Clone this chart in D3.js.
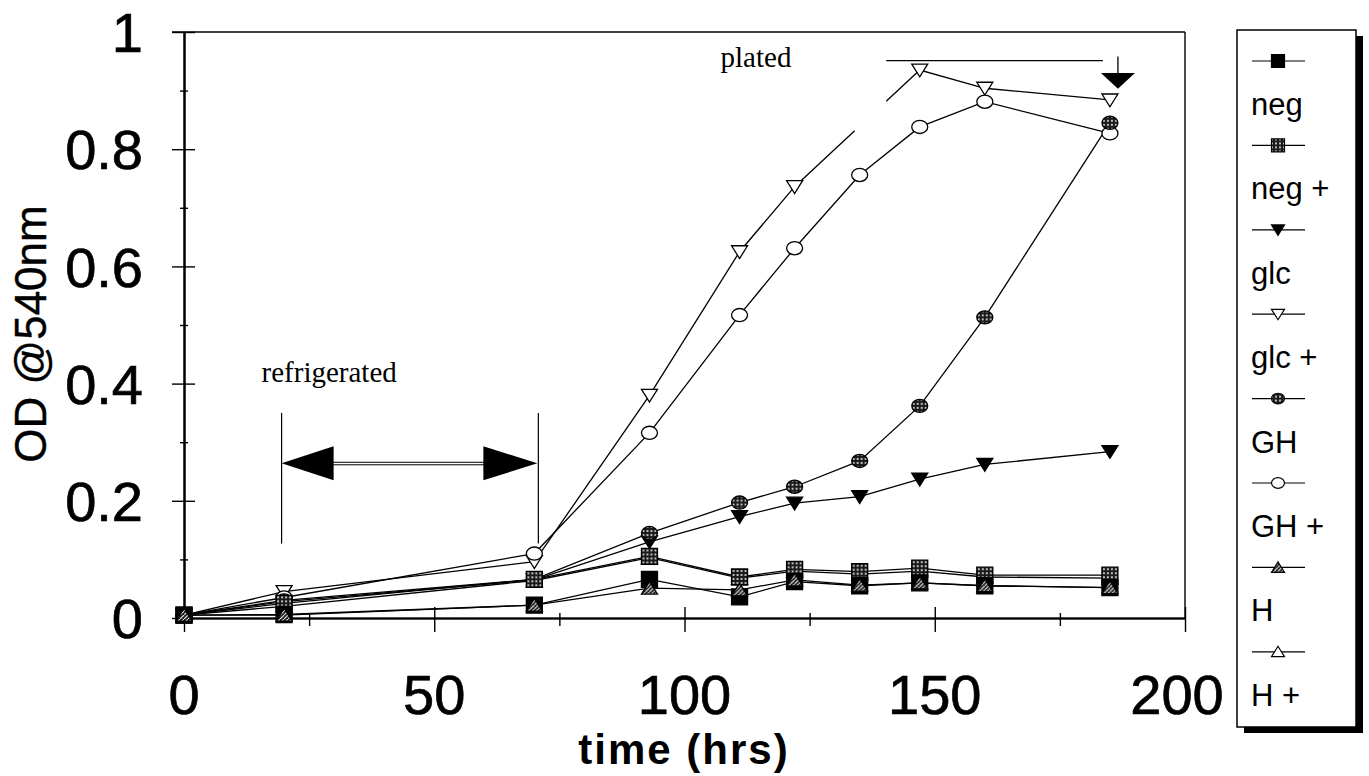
<!DOCTYPE html>
<html>
<head>
<meta charset="utf-8">
<script src="https://cdn.jsdelivr.net/npm/d3@7/dist/d3.min.js"></script>
<style>
  html, body { margin: 0; padding: 0; background: #fff; }
  svg { display: block; }
  text { fill: #000; }
</style>
</head>
<body>
<svg id="chart" width="1369" height="776"></svg>
<script>
// ---------------- data ----------------
const hours   = [0, 20, 70, 93, 111, 122, 135, 147, 160, 185];
const neg     = [0.005, 0.006, 0.022, 0.066, 0.036, 0.062, 0.055, 0.060, 0.055, 0.052];
const negPlus = [0.005, 0.025, 0.066, 0.105, 0.070, 0.083, 0.079, 0.085, 0.073, 0.073];
const glc     = [0.005, 0.028, 0.065, 0.130, 0.173, 0.196, 0.207, 0.237, 0.262, 0.284];
const glcPlus = [0.005, 0.045, 0.096, 0.380, 0.625, 0.736, null, 0.935, 0.904, 0.884];
const GH      = [0.005, 0.030, 0.066, 0.145, 0.197, 0.224, 0.268, 0.362, 0.513, 0.845];
const GHPlus  = [0.005, 0.035, 0.110, 0.316, 0.517, 0.631, 0.756, 0.838, 0.881, 0.827];
const H       = [0.005, 0.005, 0.022, 0.051, 0.048, 0.065, 0.056, 0.060, 0.055, 0.052];
const HPlus   = [0.005, 0.020, 0.064, 0.103, 0.068, 0.080, 0.075, 0.080, 0.070, 0.068];

const seriesNames = ["neg", "neg +", "glc", "glc +", "GH", "GH +", "H", "H +"];
const xMajorTicks = [0, 50, 100, 150, 200];
const xMinorTicks = [25, 75, 125, 175];
const yMajorTicks = [0, 0.2, 0.4, 0.6, 0.8, 1];
const yMinorTicks = [0.1, 0.3, 0.5, 0.7, 0.9];
const yTickLabels = ["0", "0.2", "0.4", "0.6", "0.8", "1"];
const xTickLabels = ["0", "50", "100", "150", "200"];

// annotations (in data units)
const refrigStart = 19.5, refrigEnd = 70.8;
const platedFrom = 140.3, platedTo = 183.6, platedArrowAt = 186.6;
const glcPlusGap = [134, 140.3]; // break in the glc + line

// ---------------- setup ----------------
const svg = d3.select("#chart");
const x = d3.scaleLinear().domain([0, 200]).range([184, 1185]);
const y = d3.scaleLinear().domain([0, 1]).range([618, 32]);
const SANS = "'Liberation Sans', Arial, sans-serif";
const SERIF = "'Liberation Serif', 'Times New Roman', serif";

const defs = svg.append("defs");
const dots = defs.append("pattern").attr("id", "dots").attr("patternUnits", "userSpaceOnUse")
  .attr("width", 4).attr("height", 4);
dots.append("rect").attr("width", 4).attr("height", 4).attr("fill", "#1a1a1a");
dots.append("circle").attr("cx", 2).attr("cy", 2).attr("r", 0.95).attr("fill", "#fff");
const hatch = defs.append("pattern").attr("id", "hatch").attr("patternUnits", "userSpaceOnUse")
  .attr("width", 4).attr("height", 4);
hatch.append("rect").attr("width", 4).attr("height", 4).attr("fill", "#1a1a1a");
hatch.append("path").attr("d", "M0,4 L4,0").attr("stroke", "#fff").attr("stroke-width", 1.1);

// ---------------- frame & axes ----------------
const frame = svg.append("g").attr("stroke", "#000").attr("fill", "none");
frame.append("line").attr("x1", x(0) - 12).attr("x2", x(200)).attr("y1", y(1)).attr("y2", y(1)).attr("stroke-width", 1.6);
frame.append("line").attr("x1", x(200)).attr("x2", x(200)).attr("y1", y(1)).attr("y2", y(0)).attr("stroke-width", 1.4);

function styleAxis(g) {
  g.select(".domain").attr("stroke", "#000").attr("stroke-width", 1.6);
  g.selectAll(".tick line").attr("stroke", "#000").attr("stroke-width", 1.4);
  g.selectAll(".tick text").remove();
}
svg.append("g").attr("transform", `translate(0,${y(0)})`)
  .call(d3.axisBottom(x).tickValues(xMajorTicks).tickSize(14).tickSizeOuter(0)).call(styleAxis);
svg.append("g").attr("transform", `translate(0,${y(0)})`)
  .call(d3.axisTop(x).tickValues(xMajorTicks).tickSize(11).tickSizeOuter(0)).call(styleAxis);
svg.append("g").attr("transform", `translate(0,${y(0)})`)
  .call(d3.axisBottom(x).tickValues(xMinorTicks).tickSize(8).tickSizeOuter(0)).call(styleAxis);
svg.append("g").attr("transform", `translate(0,${y(0)})`)
  .call(d3.axisTop(x).tickValues(xMinorTicks).tickSize(5).tickSizeOuter(0)).call(styleAxis);

svg.append("g").attr("transform", `translate(${x(0)},0)`)
  .call(d3.axisLeft(y).tickValues(yMajorTicks).tickSize(12).tickSizeOuter(0)).call(styleAxis);
svg.append("g").attr("transform", `translate(${x(0)},0)`)
  .call(d3.axisRight(y).tickValues(yMajorTicks).tickSize(11).tickSizeOuter(0)).call(styleAxis);
svg.append("g").attr("transform", `translate(${x(0)},0)`)
  .call(d3.axisLeft(y).tickValues(yMinorTicks).tickSize(4).tickSizeOuter(0)).call(styleAxis);
svg.append("g").attr("transform", `translate(${x(0)},0)`)
  .call(d3.axisRight(y).tickValues(yMinorTicks).tickSize(4).tickSizeOuter(0)).call(styleAxis);

// tick labels
svg.append("g").selectAll("text").data(yMajorTicks).join("text")
  .attr("x", 143).attr("y", d => y(d)).attr("dy", "0.36em")
  .attr("text-anchor", "end").attr("font-family", SANS).attr("font-size", 56)
  .attr("stroke", "#000").attr("stroke-width", 0.7)
  .text((d, i) => yTickLabels[i]);
svg.append("g").selectAll("text").data(xMajorTicks).join("text")
  .attr("x", d => x(d) - (d === 200 ? 8 : 0)).attr("y", 714)
  .attr("text-anchor", "middle").attr("font-family", SANS).attr("font-size", 56)
  .attr("stroke", "#000").attr("stroke-width", 0.7)
  .text((d, i) => xTickLabels[i]);

// axis titles
svg.append("text").attr("transform", "translate(46,334) rotate(-90)")
  .attr("text-anchor", "middle").attr("font-family", SANS).attr("font-size", 44)
  .attr("stroke", "#000").attr("stroke-width", 0.4)
  .text("OD @540nm");
svg.append("text").attr("x", 684).attr("y", 764)
  .attr("text-anchor", "middle").attr("font-family", SANS).attr("font-size", 42).attr("font-weight", "bold")
  .attr("letter-spacing", 2)
  .text("time (hrs)");

// ---------------- series ----------------
const series = [
  { name: seriesNames[0], vals: neg,     shape: "square",  fill: "#000" },
  { name: seriesNames[1], vals: negPlus, shape: "square",  fill: "url(#dots)" },
  { name: seriesNames[2], vals: glc,     shape: "tridown", fill: "#000" },
  { name: seriesNames[3], vals: glcPlus, shape: "tridown", fill: "#fff" },
  { name: seriesNames[4], vals: GH,      shape: "circle",  fill: "url(#dots)" },
  { name: seriesNames[5], vals: GHPlus,  shape: "circle",  fill: "#fff" },
  { name: seriesNames[6], vals: H,       shape: "triup",   fill: "url(#hatch)" },
  { name: seriesNames[7], vals: HPlus,   shape: "triup",   fill: "#fff" }
];
// drawing order of markers (back to front)
const drawOrder = [7, 3, 5, 2, 4, 1, 0, 6];

function markerPath(shape, s) {
  switch (shape) {
    case "square":  return `M${-s},${-s}H${s}V${s}H${-s}Z`;
    case "tridown": return `M${-s},${-s * 0.75}H${s}L0,${s * 0.85}Z`;
    case "triup":   return `M${-s},${s * 0.75}H${s}L0,${-s * 0.85}Z`;
    case "circle":  return `M${-s},0A${s},${s * 0.82} 0 1,0 ${s},0A${s},${s * 0.82} 0 1,0 ${-s},0Z`;
  }
}

const lineGen = d3.line().defined(d => d.v != null).x(d => x(d.t)).y(d => y(d.v));

function lineData(vals, gap) {
  const pts = hours.map((t, i) => ({ t, v: vals[i] })).filter(d => d.v != null);
  if (!gap) return pts;
  const out = [];
  for (let i = 0; i < pts.length; i++) {
    out.push(pts[i]);
    const a = pts[i], b = pts[i + 1];
    if (b && a.t < gap[0] && b.t > gap[1]) {
      const interp = d3.scaleLinear().domain([a.t, b.t]).range([a.v, b.v]);
      out.push({ t: gap[0], v: interp(gap[0]) });
      out.push({ t: gap[0], v: null });
      out.push({ t: gap[1], v: interp(gap[1]) });
    }
  }
  return out;
}

const lines = svg.append("g").attr("fill", "none").attr("stroke", "#000").attr("stroke-width", 1.3);
series.forEach(s => {
  lines.append("path").attr("d", lineGen(lineData(s.vals, s.vals === glcPlus ? glcPlusGap : null)));
});

const marks = svg.append("g");
drawOrder.forEach(k => {
  const s = series[k];
  marks.append("g").selectAll("path")
    .data(hours.map((t, i) => ({ t, v: s.vals[i] })).filter(d => d.v != null))
    .join("path")
    .attr("transform", d => `translate(${x(d.t)},${y(d.v)})`)
    .attr("d", markerPath(s.shape, 8))
    .attr("fill", s.fill).attr("stroke", "#000").attr("stroke-width", 1.3);
});

// ---------------- annotations ----------------
const ann = svg.append("g").attr("stroke", "#000").attr("fill", "none");
svg.append("text").attr("x", x(15.5)).attr("y", y(0.403))
  .attr("font-family", SERIF).attr("font-size", 29).text("refrigerated");
[refrigStart, refrigEnd].forEach(t => {
  ann.append("line").attr("x1", x(t)).attr("x2", x(t)).attr("y1", y(0.35)).attr("y2", y(0.127)).attr("stroke-width", 1.2);
});
const arrowY = y(0.264);
ann.append("line").attr("x1", x(refrigStart) + 50).attr("x2", x(refrigEnd) - 50)
  .attr("y1", arrowY - 1).attr("y2", arrowY - 1).attr("stroke-width", 1);
ann.append("line").attr("x1", x(refrigStart) + 50).attr("x2", x(refrigEnd) - 50)
  .attr("y1", arrowY + 1.5).attr("y2", arrowY + 1.5).attr("stroke-width", 1);
ann.append("path").attr("fill", "#000").attr("stroke", "none")
  .attr("d", `M${x(refrigStart)},${arrowY}L${x(refrigStart) + 52},${arrowY - 17}V${arrowY + 17}Z`);
ann.append("path").attr("fill", "#000").attr("stroke", "none")
  .attr("d", `M${x(refrigEnd) - 1},${arrowY}L${x(refrigEnd) - 55},${arrowY - 17}V${arrowY + 17}Z`);

svg.append("text").attr("x", x(107.2)).attr("y", y(0.94))
  .attr("font-family", SERIF).attr("font-size", 29).text("plated");
ann.append("line").attr("x1", x(platedFrom)).attr("x2", x(platedTo))
  .attr("y1", y(0.951)).attr("y2", y(0.951)).attr("stroke-width", 1.3);
ann.append("line").attr("x1", x(platedArrowAt)).attr("x2", x(platedArrowAt))
  .attr("y1", y(0.958)).attr("y2", y(0.928)).attr("stroke-width", 1.3);
ann.append("path").attr("fill", "#000").attr("stroke", "none")
  .attr("d", `M${x(platedArrowAt) - 17},${y(0.93)}H${x(platedArrowAt) + 17}L${x(platedArrowAt)},${y(0.903)}Z`);

// ---------------- legend ----------------
const lg = svg.append("g");
const lgX = 1237, lgY = 30, lgW = 119, lgH = 697;
lg.append("rect").attr("x", lgX + 7).attr("y", lgY + 6).attr("width", lgW).attr("height", lgH).attr("fill", "#000");
lg.append("rect").attr("x", lgX).attr("y", lgY).attr("width", lgW).attr("height", lgH)
  .attr("fill", "#fff").attr("stroke", "#000").attr("stroke-width", 1.5);
series.forEach((s, i) => {
  const sy = 61 + 84.4 * i;
  lg.append("line").attr("x1", 1252).attr("x2", 1305).attr("y1", sy).attr("y2", sy)
    .attr("stroke", "#000").attr("stroke-width", 1.2);
  lg.append("path").attr("transform", `translate(1278,${sy})`).attr("d", markerPath(s.shape, 6.5))
    .attr("fill", s.fill).attr("stroke", "#000").attr("stroke-width", 1.2);
  lg.append("text").attr("x", 1251).attr("y", sy + 54)
    .attr("font-family", SANS).attr("font-size", 31).text(s.name);
});
</script>
</body>
</html>
